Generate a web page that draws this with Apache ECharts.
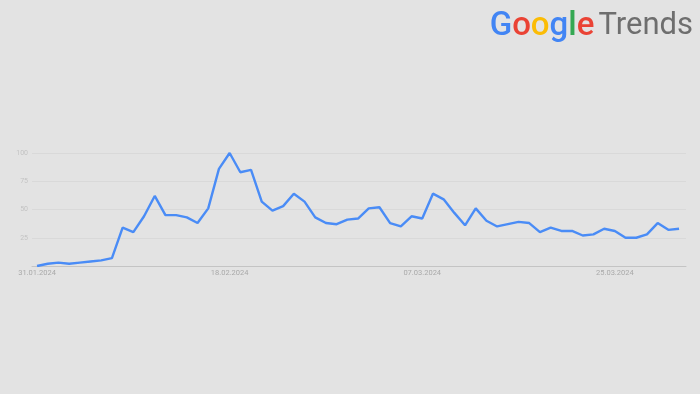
<!DOCTYPE html>
<html>
<head>
<meta charset="utf-8">
<script src="https://cdn.jsdelivr.net/npm/echarts@6/dist/echarts.min.js"></script>
<style>
html,body{margin:0;padding:0;background:#e3e3e3;}
#c{width:700px;height:394px;}
</style>
</head>
<body>
<div id="c"></div>
<script>
// ---- data ----
var startDate = '2024-01-31';
var values = [
  0, 2, 3, 2, 3, 4, 5, 7, 34, 30,
  44, 62, 45, 45, 43, 38, 51, 86, 100, 83,
  85, 57, 49, 53, 64, 57, 43, 38, 37, 41,
  42, 51, 52, 38, 35, 44, 42, 64, 59, 47,
  36, 51, 40, 35, 37, 39, 38, 30, 34, 31,
  31, 27, 28, 33, 31, 25, 25, 28, 38, 32,
  33
];
var tickDates = ['2024-01-31', '2024-02-18', '2024-03-07', '2024-03-25'];
var tickLabels = ['31.01.2024', '18.02.2024', '07.03.2024', '25.03.2024'];
var yTicks = [25, 50, 75, 100];

var DAY = 86400000;
function ts(s) { var p = s.split('-'); return Date.UTC(+p[0], +p[1] - 1, +p[2]); }
var t0 = ts(startDate);
// x = day offset from the first date
var seriesData = values.map(function (v, i) { return [i, v]; });
var tickIdx = tickDates.map(function (s) { return Math.round((ts(s) - t0) / DAY); });

var gf = {fontSize: 33, fontFamily: 'Roboto', fontWeight: 500};
function st(c) { return Object.assign({color: c}, gf); }

var chart = echarts.init(document.getElementById('c'), null, {renderer: 'canvas'});
chart.setOption({
  backgroundColor: '#e3e3e3',
  animation: false,
  title: {
    right: 2,
    top: 5,
    text: '{b|G}{r|o}{y|o}{b|g}{g|l}{r|e}{t|Trends}',
    textStyle: {
      rich: {
        b: st('#4285f4'),
        r: st('#ea4335'),
        y: st('#fbbc05'),
        g: st('#34a853'),
        t: {color: '#6e6e6e', fontSize: 31, fontFamily: 'Roboto', fontWeight: 400, padding: [0, 0, 0, 4]}
      }
    }
  },
  grid: {left: 32, right: 14, top: 153, bottom: 128, containLabel: false},
  xAxis: {
    type: 'value',
    min: -0.47,
    max: 60.65,
    axisLine: {show: true, lineStyle: {color: '#c4c4c4', width: 1}},
    axisTick: {show: false},
    splitLine: {show: false},
    axisLabel: {
      customValues: tickIdx,
      formatter: function (v) {
        var i = tickIdx.indexOf(Math.round(v));
        return i >= 0 ? tickLabels[i] : '';
      },
      color: '#a9a9a9',
      fontSize: 7.5,
      fontFamily: 'Roboto',
      margin: 3,
      hideOverlap: false
    }
  },
  yAxis: {
    type: 'value',
    min: 0,
    max: 100,
    interval: 25,
    axisLine: {show: false},
    axisTick: {show: false},
    splitLine: {lineStyle: {color: '#d9d9d9', width: 1}},
    axisLabel: {
      customValues: yTicks,
      color: '#c3c3c3',
      fontSize: 7,
      fontFamily: 'Roboto',
      margin: 4
    }
  },
  series: [{
    type: 'line',
    data: seriesData,
    showSymbol: false,
    symbol: 'none',
    lineStyle: {color: '#4a8cf6', width: 2.4},
    itemStyle: {color: '#4a8cf6'}
  }]
});
</script>
</body>
</html>
